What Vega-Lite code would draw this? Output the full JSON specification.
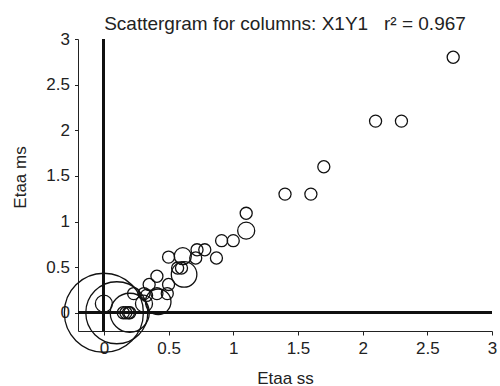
{
  "$schema": "https://vega.github.io/schema/vega-lite/v6.json",
  "width": 414,
  "height": 292,
  "autosize": "none",
  "padding": {"left": 78, "top": 39, "right": 8, "bottom": 55},
  "background": "white",
  "title": {
    "text": "Scattergram for columns: X1Y1\u00a0\u00a0\u00a0r²\u00a0=\u00a00.967",
    "font": "Liberation Sans",
    "fontSize": 19,
    "fontWeight": "normal",
    "color": "#222",
    "anchor": "middle",
    "frame": "group",
    "baseline": "alphabetic",
    "offset": 11,
    "dy": 30
  },
  "config": {
    "view": {"stroke": null},
    "axis": {
      "grid": false,
      "domainColor": "#222",
      "domainWidth": 1,
      "tickColor": "#222",
      "tickWidth": 1,
      "tickSize": 4,
      "labelFont": "Liberation Sans",
      "labelFontSize": 17,
      "labelColor": "#222",
      "titleFont": "Liberation Sans",
      "titleFontSize": 17,
      "titleFontWeight": "normal",
      "titleColor": "#222"
    }
  },
  "data": {
    "values": [
      {"ss": 2.7, "ms": 2.8, "n": 1},
      {"ss": 2.1, "ms": 2.1, "n": 1},
      {"ss": 2.3, "ms": 2.1, "n": 1},
      {"ss": 1.7, "ms": 1.6, "n": 1},
      {"ss": 1.4, "ms": 1.3, "n": 1},
      {"ss": 1.6, "ms": 1.3, "n": 1},
      {"ss": 1.1, "ms": 1.09, "n": 1},
      {"ss": 1.1, "ms": 0.9, "n": 2},
      {"ss": 1.0, "ms": 0.79, "n": 1},
      {"ss": 0.91, "ms": 0.79, "n": 1},
      {"ss": 0.87, "ms": 0.6, "n": 1},
      {"ss": 0.78, "ms": 0.69, "n": 1},
      {"ss": 0.72, "ms": 0.69, "n": 1},
      {"ss": 0.71, "ms": 0.6, "n": 1},
      {"ss": 0.61, "ms": 0.62, "n": 2},
      {"ss": 0.5, "ms": 0.61, "n": 1},
      {"ss": 0.57, "ms": 0.49, "n": 1},
      {"ss": 0.6, "ms": 0.49, "n": 1},
      {"ss": 0.62, "ms": 0.42, "n": 4.5},
      {"ss": 0.41, "ms": 0.4, "n": 1},
      {"ss": 0.35, "ms": 0.31, "n": 1},
      {"ss": 0.5, "ms": 0.31, "n": 1},
      {"ss": 0.49, "ms": 0.21, "n": 1},
      {"ss": 0.41, "ms": 0.21, "n": 1},
      {"ss": 0.31, "ms": 0.21, "n": 1},
      {"ss": 0.33, "ms": 0.19, "n": 1},
      {"ss": 0.23, "ms": 0.21, "n": 1},
      {"ss": 0.42, "ms": 0.12, "n": 4.5},
      {"ss": 0.31, "ms": 0.1, "n": 2},
      {"ss": 0.0, "ms": 0.1, "n": 2},
      {"ss": 0.15, "ms": 0.0, "n": 1},
      {"ss": 0.17, "ms": 0.0, "n": 1},
      {"ss": 0.19, "ms": 0.0, "n": 1},
      {"ss": 0.2, "ms": 0.0, "n": 1},
      {"ss": 0.2, "ms": 0.0, "n": 10.5},
      {"ss": 0.1, "ms": 0.0, "n": 26.5},
      {"ss": 0.0, "ms": 0.0, "n": 43}
    ]
  },
  "layer": [
    {
      "mark": {"type": "rule", "strokeWidth": 2, "color": "#111"},
      "encoding": {"x": {"datum": 0, "type": "quantitative"}}
    },
    {
      "mark": {"type": "rule", "strokeWidth": 2, "color": "#111"},
      "encoding": {"y": {"datum": 0, "type": "quantitative"}}
    },
    {
      "mark": {"type": "point", "shape": "circle", "filled": false, "stroke": "#111", "strokeWidth": 1.3, "opacity": 1},
      "encoding": {
        "x": {
          "field": "ss",
          "type": "quantitative",
          "scale": {"domain": [-0.2, 3], "nice": false, "zero": false},
          "axis": {
            "title": "Etaa ss",
            "values": [0, 0.25, 0.5, 0.75, 1, 1.25, 1.5, 1.75, 2, 2.25, 2.5, 2.75, 3],
            "labelExpr": "datum.value % 0.5 == 0 ? format(datum.value, '~g') : ''",
            "labelPadding": 5,
            "labelFlush": false,
            "labelOverlap": false,
            "titleBaseline": "alphabetic",
            "titleX": 207,
            "titleY": 52,
            "titleAlign": "center"
          }
        },
        "y": {
          "field": "ms",
          "type": "quantitative",
          "scale": {"domain": [-0.2, 3], "nice": false, "zero": false},
          "axis": {
            "title": "Etaa ms",
            "values": [0, 0.25, 0.5, 0.75, 1, 1.25, 1.5, 1.75, 2, 2.25, 2.5, 2.75, 3],
            "labelExpr": "datum.value % 0.5 == 0 ? format(datum.value, '~g') : ''",
            "labelPadding": 5,
            "labelFlush": false,
            "labelOverlap": false,
            "tickSize": 3.5,
            "titleAngle": -90,
            "titleBaseline": "alphabetic",
            "titleAlign": "center",
            "titleX": -53,
            "titleY": 138
          }
        },
        "size": {
          "field": "n",
          "type": "quantitative",
          "scale": {"domain": [0, 43], "range": [0, 6241], "zero": true},
          "legend": null
        }
      }
    }
  ]
}
